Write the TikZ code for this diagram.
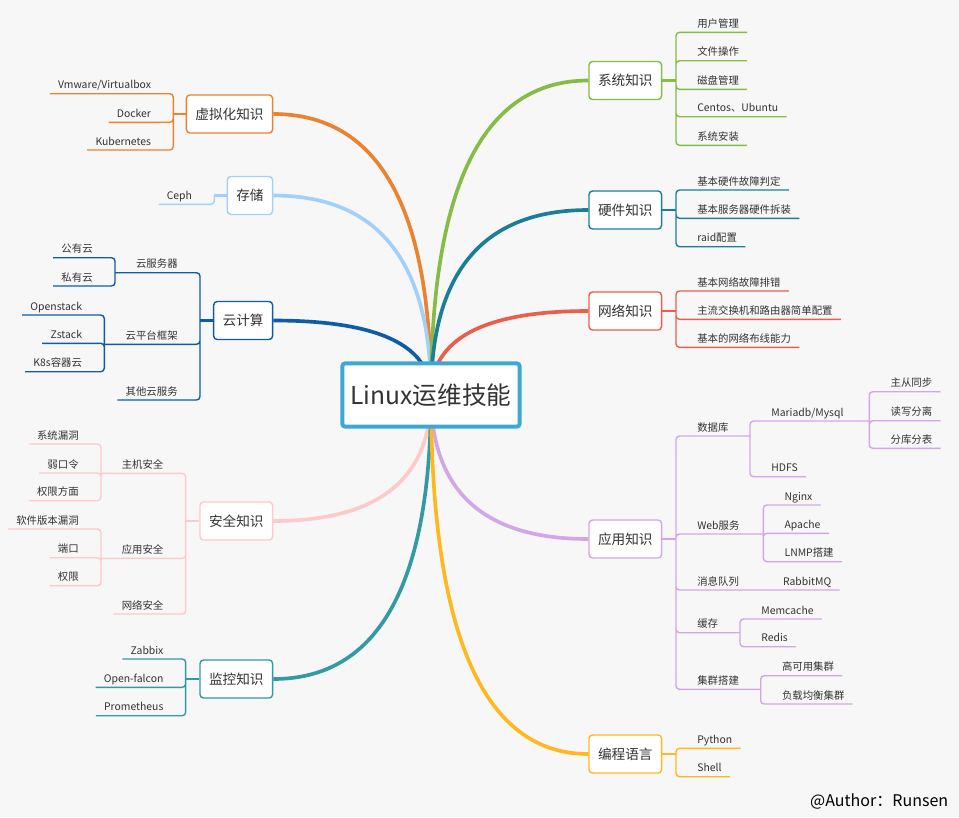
\documentclass[tikz,border=0pt]{standalone}
\usepackage{fontspec}
\setmainfont{Noto Sans CJK SC}
\usetikzlibrary{calc}

\definecolor{paper}{HTML}{F7F7F7}
\definecolor{ink}{HTML}{333333}
\definecolor{cRoot}{HTML}{3BA9D3}
\definecolor{cSys}{HTML}{85BC45}
\definecolor{cHw}{HTML}{1C7E96}
\definecolor{cNet}{HTML}{EA5E4E}
\definecolor{cApp}{HTML}{D3A6E8}
\definecolor{cProg}{HTML}{FFB820}
\definecolor{cVirt}{HTML}{EA8230}
\definecolor{cStor}{HTML}{A2D0FA}
\definecolor{cCloud}{HTML}{0D5DA6}
\definecolor{cSec}{HTML}{FFC9C9}
\definecolor{cMon}{HTML}{3399A3}

\tikzset{
    root/.style={draw=cRoot, line width=2.8pt, fill=white, rounded corners=2pt,
        minimum width=126pt, minimum height=45pt, font=\fontsize{17.5}{20}\selectfont, text=ink},
    topic/.style={draw=#1, line width=1pt, fill=white, rounded corners=2.5pt,
        minimum height=27pt, inner xsep=6.4pt, font=\fontsize{9.7}{11}\selectfont, text=ink},
    leafR/.style={anchor=south west, inner xsep=5.7pt, inner ysep=3.2pt, text depth=0pt,
        font=\fontsize{7.4}{9}\selectfont, text=ink},
    leafL/.style={leafR, anchor=south east},
    stem/.style={draw=#1, line width=1.5pt},
    link/.style={draw=#1, line width=1pt, rounded corners=2.5pt},
    branch/.style={draw=#1, line width=2.6pt},
}

% curved main branch from the hub to a topic box
\newcommand{\bough}[2]{\draw[branch=#1] (hub) .. controls ($(hub)!.667!(hub |- #2)$) and ($(#2)!.667!(hub |- #2)$) .. (#2);}

\begin{document}
\begin{tikzpicture}[x=0.025cm, y=-0.025cm]
    \fill[paper] (0,0) rectangle (959,817);
    \useasboundingbox (0,0) rectangle (959,817);
    \coordinate (hub) at (431,395);

    % right topics
    \node[topic=cSys, anchor=west] (sys) at (588.3,80.5) {系统知识};
    \node[topic=cHw, anchor=west] (hw) at (588.3,210) {硬件知识};
    \node[topic=cNet, anchor=west] (net) at (588.3,311) {网络知识};
    \node[topic=cApp, anchor=west] (app) at (588.3,539) {应用知识};
    \node[topic=cProg, anchor=west] (prog) at (588.3,754) {编程语言};
    % left topics
    \node[topic=cVirt, anchor=east] (virt) at (273.3,114) {虚拟化知识};
    \node[topic=cStor, anchor=east] (stor) at (273.3,195.5) {存储};
    \node[topic=cCloud, anchor=east] (cloud) at (273.3,320.5) {云计算};
    \node[topic=cSec, anchor=east] (sec) at (273.3,521) {安全知识};
    \node[topic=cMon, anchor=east] (mon) at (273.3,679) {监控知识};

    \bough{cVirt}{virt.east}
    \bough{cStor}{stor.east}
    \bough{cCloud}{cloud.east}
    \bough{cSec}{sec.east}
    \bough{cMon}{mon.east}
    \bough{cSys}{sys.west}
    \bough{cHw}{hw.west}
    \bough{cNet}{net.west}
    \bough{cApp}{app.west}
    \bough{cProg}{prog.west}

    % 系统知识
    \coordinate (sysJ) at (676,80.5);
    \node[leafR] (s1) at (689,32.3) {用户管理};
    \node[leafR] (s2) at (689,60.7) {文件操作};
    \node[leafR] (s3) at (689,89.3) {磁盘管理};
    \node[leafR] (s4) at (689,116.7) {Centos、Ubuntu};
    \node[leafR] (s5) at (689,145.3) {系统安装};
    \draw[stem=cSys] (sys.east) -- (sysJ);
    \draw[link=cSys] (sysJ) |- (s1.south east) (sysJ) |- (s2.south east) (sysJ) |- (s3.south east)
        (sysJ) |- (s4.south east) (sysJ) |- (s5.south east);

    % 硬件知识
    \coordinate (hwJ) at (676,210);
    \node[leafR] (h1) at (689,190) {基本硬件故障判定};
    \node[leafR] (h2) at (689,218.3) {基本服务器硬件拆装};
    \node[leafR] (h3) at (689,246.7) {raid配置};
    \draw[stem=cHw] (hw.east) -- (hwJ);
    \draw[link=cHw] (hwJ) |- (h1.south east) (hwJ) |- (h2.south east) (hwJ) |- (h3.south east);

    % 网络知识
    \coordinate (netJ) at (676,311);
    \node[leafR] (n1) at (689,291) {基本网络故障排错};
    \node[leafR] (n2) at (689,319.3) {主流交换机和路由器简单配置};
    \node[leafR] (n3) at (689,347.3) {基本的网络布线能力};
    \draw[stem=cNet] (net.east) -- (netJ);
    \draw[link=cNet] (netJ) |- (n1.south east) (netJ) |- (n2.south east) (netJ) |- (n3.south east);

    % 应用知识
    \coordinate (appJ) at (676,539);
    \node[leafR] (db) at (689,436) {数据库};
    \node[leafR] (web) at (689,534) {Web服务};
    \node[leafR] (mq) at (689,590) {消息队列};
    \node[leafR] (cache) at (689,632.7) {缓存};
    \node[leafR] (clu) at (689,689.3) {集群搭建};
    \draw[stem=cApp] (app.east) -- (appJ);
    \coordinate (dbJ) at (750,436);
    \coordinate (webJ) at (763.3,534);
    \coordinate (cacheJ) at (740,632.7);
    \coordinate (cluJ) at (760.7,689.3);
    \node[leafR] (maria) at (763,421) {Mariadb/Mysql};
    \node[leafR] (hdfs) at (763,476.7) {HDFS};
    \coordinate (mariaJ) at (869.3,421);
    \node[leafR] (m1) at (882.3,391.7) {主从同步};
    \node[leafR] (m2) at (882.3,420.7) {读写分离};
    \node[leafR] (m3) at (882.3,448.3) {分库分表};
    \node[leafR] (nginx) at (776.3,505) {Nginx};
    \node[leafR] (apache) at (776.3,533.3) {Apache};
    \node[leafR] (lnmp) at (776.3,561.7) {LNMP搭建};
    \node[leafR] (rabbit) at (774.7,590) {RabbitMQ};
    \node[leafR] (memc) at (753,619) {Memcache};
    \node[leafR] (redis) at (753,646.7) {Redis};
    \node[leafR] (ha) at (773.7,675.7) {高可用集群};
    \node[leafR] (lb) at (773.7,704) {负载均衡集群};
    \draw[link=cApp] (appJ) |- (db.south east) -- (dbJ) (appJ) |- (web.south east) -- (webJ)
        (appJ) |- (mq.south east) -- (rabbit.south east) (appJ) |- (cache.south east) -- (cacheJ)
        (appJ) |- (clu.south east) -- (cluJ);
    \draw[link=cApp] (dbJ) |- (maria.south east) -- (mariaJ) (dbJ) |- (hdfs.south east);
    \draw[link=cApp] (mariaJ) |- (m1.south east) (mariaJ) |- (m2.south east) (mariaJ) |- (m3.south east);
    \draw[link=cApp] (webJ) |- (nginx.south east) (webJ) |- (apache.south east) (webJ) |- (lnmp.south east);
    \draw[link=cApp] (cacheJ) |- (memc.south east) (cacheJ) |- (redis.south east);
    \draw[link=cApp] (cluJ) |- (ha.south east) (cluJ) |- (lb.south east);

    % 编程语言
    \coordinate (progJ) at (676,754);
    \node[leafR] (py) at (689,748.3) {Python};
    \node[leafR] (sh) at (689,776.7) {Shell};
    \draw[stem=cProg] (prog.east) -- (progJ);
    \draw[link=cProg] (progJ) |- (py.south east) (progJ) |- (sh.south east);

    % 虚拟化知识
    \coordinate (virtJ) at (173.3,114);
    \node[leafL] (v1) at (159.3,93.7) {Vmware/Virtualbox};
    \node[leafL] (v2) at (159.3,122.3) {Docker};
    \node[leafL] (v3) at (159.3,150) {Kubernetes};
    \draw[stem=cVirt] (virt.west) -- (virtJ);
    \draw[link=cVirt] (virtJ) |- (v1.south west) (virtJ) |- (v2.south west) (virtJ) |- (v3.south west);

    % 存储
    \coordinate (storJ) at (214.3,195.5);
    \node[leafL] (ceph) at (200.3,204.3) {Ceph};
    \draw[stem=cStor] (stor.west) -- (storJ);
    \draw[link=cStor] (storJ) |- (ceph.south west);

    % 云计算
    \coordinate (cloudJ) at (200,320.5);
    \node[leafL] (srv) at (186,272.7) {云服务器};
    \node[leafL] (plat) at (186,344.3) {云平台框架};
    \node[leafL] (other) at (186,400) {其他云服务};
    \coordinate (srvJ) at (115,272.7);
    \coordinate (platJ) at (104.3,344.3);
    \node[leafL] (pub) at (101,257.7) {公有云};
    \node[leafL] (pri) at (101,286) {私有云};
    \node[leafL] (ostack) at (90.3,315) {Openstack};
    \node[leafL] (zstack) at (90.3,343.3) {Zstack};
    \node[leafL] (k8s) at (90.3,371.7) {K8s容器云};
    \draw[stem=cCloud] (cloud.west) -- (cloudJ);
    \draw[link=cCloud] (cloudJ) |- (srv.south west) -- (srvJ) (cloudJ) |- (plat.south west) -- (platJ)
        (cloudJ) |- (other.south west);
    \draw[link=cCloud] (srvJ) |- (pub.south west) (srvJ) |- (pri.south west);
    \draw[link=cCloud] (platJ) |- (ostack.south west) (platJ) |- (zstack.south west) (platJ) |- (k8s.south west);

    % 安全知识
    \coordinate (secJ) at (185.7,521);
    \node[leafL] (host) at (171.7,473.3) {主机安全};
    \node[leafL] (appsec) at (171.7,558.3) {应用安全};
    \node[leafL] (netsec) at (171.7,614) {网络安全};
    \coordinate (hostJ) at (101,473.3);
    \coordinate (appsecJ) at (101,558.3);
    \node[leafL] (e1) at (87,444) {系统漏洞};
    \node[leafL] (e2) at (87,473) {弱口令};
    \node[leafL] (e3) at (87,500.7) {权限方面};
    \node[leafL] (f1) at (87,529) {软件版本漏洞};
    \node[leafL] (f2) at (87,557.7) {端口};
    \node[leafL] (f3) at (87,585.7) {权限};
    \draw[stem=cSec] (sec.west) -- (secJ);
    \draw[link=cSec] (secJ) |- (host.south west) -- (hostJ) (secJ) |- (appsec.south west) -- (appsecJ)
        (secJ) |- (netsec.south west);
    \draw[link=cSec] (hostJ) |- (e1.south west) (hostJ) |- (e2.south west) (hostJ) |- (e3.south west);
    \draw[link=cSec] (appsecJ) |- (f1.south west) (appsecJ) |- (f2.south west) (appsecJ) |- (f3.south west);

    % 监控知识
    \coordinate (monJ) at (185.7,679);
    \node[leafL] (zab) at (171.7,659) {Zabbix};
    \node[leafL] (falcon) at (171.7,687.3) {Open-falcon};
    \node[leafL] (prom) at (171.7,715.7) {Prometheus};
    \draw[stem=cMon] (mon.west) -- (monJ);
    \draw[link=cMon] (monJ) |- (zab.south west) (monJ) |- (falcon.south west) (monJ) |- (prom.south west);

    \node[root] (root) at (hub) {Linux运维技能};
    \node[anchor=base east, inner sep=0pt, font=\fontsize{11.4}{14}\selectfont, text=black] (sign) at (948.5,806) {@Author：Runsen};
\end{tikzpicture}
\end{document}
